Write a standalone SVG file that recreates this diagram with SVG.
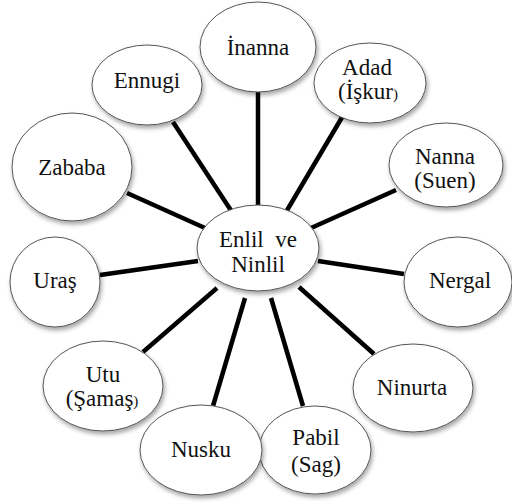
<svg xmlns="http://www.w3.org/2000/svg" width="512" height="504" viewBox="0 0 512 504">
<defs>
<filter id="sh" x="-20%" y="-20%" width="140%" height="150%">
<feDropShadow dx="1.5" dy="3" stdDeviation="2" flood-color="#000" flood-opacity="0.35"/>
</filter>
<style>
.n ellipse{fill:#fff;stroke:#555;stroke-width:1;filter:url(#sh)}
.n text{font-family:'Liberation Serif','Times New Roman',serif;font-size:23px;fill:#111;text-anchor:middle}
#edges line{stroke:#000;stroke-width:4.5;stroke-linecap:butt}
.s{font-size:15px}
</style>
</defs>
<rect width="512" height="504" fill="#fff"/>
<g id="edges">
<line x1="258" y1="92" x2="258" y2="206"/>
<line x1="344" y1="114" x2="286" y2="212"/>
<line x1="396" y1="190" x2="311" y2="228"/>
<line x1="404" y1="274" x2="318" y2="261"/>
<line x1="374" y1="354" x2="299" y2="287"/>
<line x1="303" y1="406" x2="271" y2="298"/>
<line x1="213" y1="406" x2="245" y2="298"/>
<line x1="143" y1="352" x2="217" y2="288"/>
<line x1="100" y1="275" x2="198" y2="261"/>
<line x1="127" y1="193" x2="205" y2="228"/>
<line x1="173" y1="122" x2="232" y2="212"/>
</g>
<g id="inanna" class="n"><ellipse cx="258" cy="47" rx="58" ry="45"/><text x="258" y="55">İnanna</text></g>
<g id="adad" class="n"><ellipse cx="370" cy="83" rx="56" ry="40"/><text x="367" y="75">Adad</text><text x="368" y="99">(İşkur<tspan class="s">)</tspan></text></g>
<g id="nanna" class="n"><ellipse cx="446" cy="165" rx="57" ry="42"/><text x="445" y="164">Nanna</text><text x="445" y="188">(Suen)</text></g>
<g id="nergal" class="n"><ellipse cx="458" cy="282" rx="54" ry="45"/><text x="460" y="288">Nergal</text></g>
<g id="ninurta" class="n"><ellipse cx="413" cy="388" rx="60" ry="44"/><text x="412" y="395">Ninurta</text></g>
<g id="pabil" class="n"><ellipse cx="315" cy="450" rx="56" ry="44"/><text x="316" y="445">Pabil</text><text x="316" y="472">(Sag)</text></g>
<g id="nusku" class="n"><ellipse cx="201" cy="450" rx="61" ry="45"/><text x="201" y="457">Nusku</text></g>
<g id="utu" class="n"><ellipse cx="103" cy="386" rx="60" ry="45"/><text x="103" y="382">Utu</text><text x="102" y="406">(Şamaş<tspan class="s">)</tspan></text></g>
<g id="uras" class="n"><ellipse cx="55" cy="282" rx="45" ry="45"/><text x="55" y="288">Uraş</text></g>
<g id="zababa" class="n"><ellipse cx="72" cy="167" rx="60" ry="54"/><text x="72" y="175">Zababa</text></g>
<g id="ennugi" class="n"><ellipse cx="147" cy="85" rx="55" ry="40"/><text x="147" y="88">Ennugi</text></g>
<g id="enlil" class="n"><ellipse cx="258" cy="248" rx="61" ry="43"/><text x="258" y="247" xml:space="preserve">Enlil  ve</text><text x="258" y="272">Ninlil</text></g>
</svg>
